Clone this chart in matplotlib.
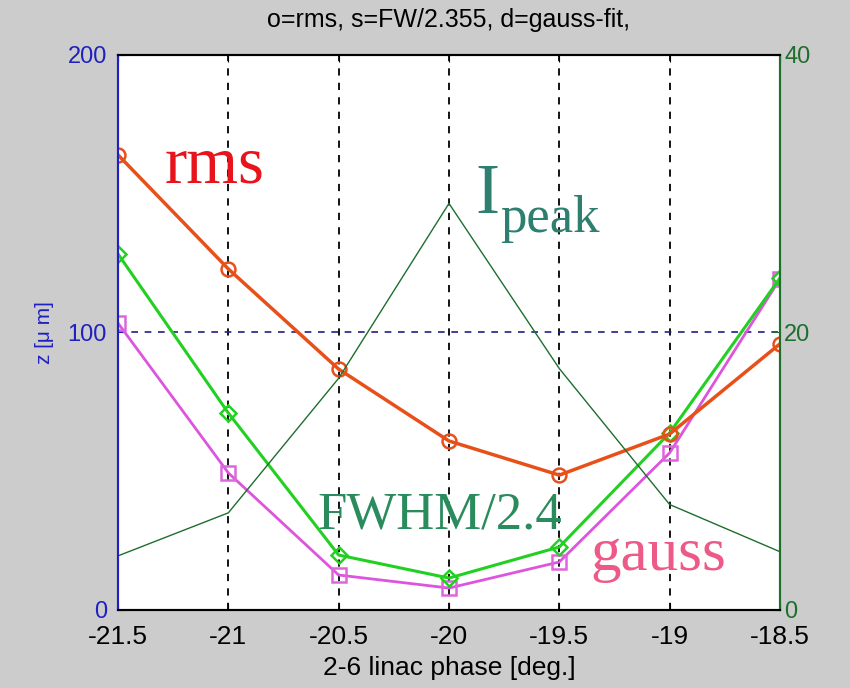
import matplotlib.pyplot as plt

# phase scan of linac 2-6
phase = [-21.5, -21.0, -20.5, -20.0, -19.5, -19.0, -18.5]
z_rms = [164.0, 122.9, 86.8, 60.9, 48.6, 63.4, 95.9]
z_fwhm = [128.3, 71.0, 19.8, 11.5, 22.7, 63.8, 119.6]
z_gauss = [103.4, 49.4, 12.6, 7.9, 17.3, 56.6, 119.3]
i_peak = [3.9, 7.0, 16.7, 29.3, 17.4, 7.6, 4.2]

xtick_labels = ['-21.5', '-21', '-20.5', '-20', '-19.5', '-19', '-18.5']
left_ticks = [0, 100, 200]
right_ticks = [0, 20, 40]

bg = '#cccccc'
blue = '#2020c0'
green = '#1e6e2e'
sans = 'Liberation Sans'

fig = plt.figure(figsize=(8.5, 6.88), dpi=100, facecolor=bg)
ax1 = fig.add_axes([0.1388, 0.1134, 0.7788, 0.8067])
ax1.set_facecolor('white')
ax2 = ax1.twinx()

ax1.plot(phase, z_gauss, color='#dd55dd', lw=2, marker='s', ms=10,
         mfc='none', mec='#dd66dd', mew=1.8, zorder=3)
ax1.plot(phase, z_fwhm, color='#22d022', lw=2.2, marker='D', ms=8,
         mfc='none', mec='#22d022', mew=1.8, zorder=4)
ax1.plot(phase, z_rms, color='#e8501a', lw=2.5, marker='o', ms=10,
         mfc='none', mec='#e8501a', mew=1.8, zorder=5)
ax2.plot(phase, i_peak, color=green, lw=1)

ax1.set_xlim(-21.5, -18.5)
ax1.set_ylim(0, 200)
ax2.set_ylim(0, 40)
ax1.set_xticks(phase)
ax1.set_xticklabels(xtick_labels)
ax1.set_yticks(left_ticks)
ax2.set_yticks(right_ticks)

for lab in ax1.get_xticklabels():
    lab.set_fontfamily(sans)
    lab.set_fontsize(19)
for lab in ax1.get_yticklabels() + ax2.get_yticklabels():
    lab.set_fontfamily(sans)
    lab.set_fontsize(17)

ax1.tick_params(axis='x', direction='in', length=5, pad=11, colors='black', top=True)
ax1.tick_params(axis='y', direction='in', length=5, pad=8, colors=blue)
ax2.tick_params(axis='y', direction='in', length=5, pad=3, colors=green)

for ax in (ax1, ax2):
    ax.spines['top'].set_color('black')
    ax.spines['bottom'].set_color('black')
    ax.spines['left'].set_color(blue)
    ax.spines['right'].set_color(green)
    for s in ax.spines.values():
        s.set_linewidth(1.5)

ax1.grid(True, axis='x', color='black', linestyle=(0, (4, 4)), lw=1.3)
ax1.grid(True, axis='y', color='#202080', linestyle=(0, (4, 4)), lw=1.2)
ax1.set_axisbelow(True)

ax1.set_xlabel('2-6 linac phase [deg.]', labelpad=5, family=sans, size=19)
ax1.set_ylabel('z [\u03bc m]', color=blue, family=sans, size=15)
ax1.yaxis.set_label_coords(-0.097, 0.5)
ax1.set_title('o=rms, s=FW/2.355, d=gauss-fit,', pad=20, family=sans, size=18)

serif = 'Liberation Serif'
ax1.text(-21.287, 154.2, 'rms', color='#e8141c', family=serif, size=48, va='baseline', zorder=6)
ax1.text(-19.882, 143.1, 'I', color='#2f7f70', family=serif, size=52, va='baseline', zorder=6)
ax1.text(-19.769, 136.2, 'peak', color='#2f7f70', family=serif, size=38, va='baseline', zorder=6)
ax1.text(-20.594, 29.5, 'FWHM/2.4', color='#2a8c5c', family=serif, size=38, va='baseline', zorder=6)
ax1.text(-19.361, 14.4, 'gauss', color='#ee5a88', family=serif, size=44, va='baseline', zorder=6)

fig.savefig('out.png', dpi=100, facecolor=bg)
